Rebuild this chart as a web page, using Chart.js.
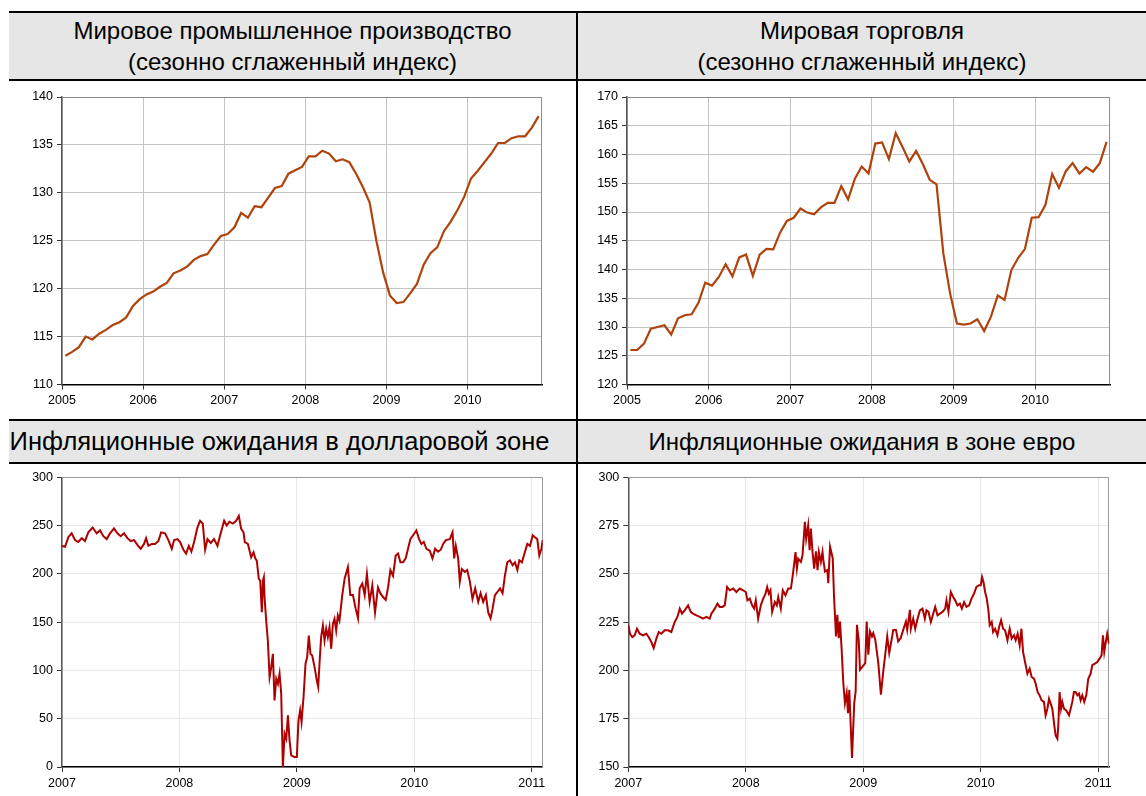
<!DOCTYPE html>
<html>
<head>
<meta charset="utf-8">
<script src="https://cdn.jsdelivr.net/npm/chart.js@4.4.1/dist/chart.umd.min.js"></script>
<style>
  body { margin: 0; background: #fff; width: 1146px; height: 796px; position: relative; overflow: hidden;
         font-family: "Liberation Sans", Arial, sans-serif; }
  .hdr { position: absolute; box-sizing: border-box; background: #e6e6e6; border-top: 2px solid #000;
         border-bottom: 2px solid #000; text-align: center; color: #000; font-size: 24px; white-space: nowrap; }
  .hdr.two { height: 70px; line-height: 31px; padding-top: 2px; }
  .hdr.one { height: 45px; line-height: 41px; }
  .vline { position: absolute; left: 576px; top: 11px; width: 2px; height: 785px; background: #000; }
  .box { position: absolute; }
</style>
</head>
<body>

<div class="hdr two" style="left:9px;top:11px;width:567px">Мировое промышленное производство<br>(сезонно сглаженный индекс)</div>
<div class="hdr two" style="left:578px;top:11px;width:568px">Мировая торговля<br>(сезонно сглаженный индекс)</div>
<div class="hdr one" style="left:9px;top:419px;width:567px;font-size:25.5px;padding-right:26px">Инфляционные ожидания в долларовой зоне</div>
<div class="hdr one" style="left:578px;top:419px;width:568px">Инфляционные ожидания в зоне евро</div>
<div class="vline"></div>

<div class="box" style="left:0;top:82px;width:576px;height:336px"><canvas id="prod"></canvas></div>
<div class="box" style="left:578px;top:82px;width:568px;height:336px"><canvas id="trade"></canvas></div>
<div class="box" style="left:0;top:465px;width:576px;height:331px"><canvas id="usd"></canvas></div>
<div class="box" style="left:578px;top:465px;width:568px;height:331px"><canvas id="eur"></canvas></div>

<script>
// ===============================
// данные: месячные индексы, янв 2005 – ноя 2010 (точка в середине месяца)
// ===============================
const monthStart = 2005;
const yearTicksTop = [2005, 2006, 2007, 2008, 2009, 2010];

const productionValues = [
  113.0, 113.4, 113.9, 115.0, 114.7, 115.3, 115.7, 116.2, 116.5, 117.0, 118.2, 118.9,
  119.4, 119.7, 120.2, 120.6, 121.6, 121.9, 122.3, 123.0, 123.4, 123.6, 124.6, 125.5,
  125.7, 126.4, 127.9, 127.4, 128.6, 128.5, 129.5, 130.5, 130.7, 132.0, 132.35, 132.7,
  133.8, 133.8, 134.4, 134.1, 133.3, 133.5, 133.2, 132.0, 130.6, 129.0, 125.0, 121.7,
  119.3, 118.5, 118.6, 119.5, 120.5, 122.5, 123.7, 124.3, 126.0, 127.0, 128.2, 129.6,
  131.5, 132.3, 133.2, 134.1, 135.2, 135.2, 135.7, 135.9, 135.9, 136.8, 138.0
];

const tradeValues = [
  126.0, 126.0, 127.1, 129.7, 130.0, 130.3, 128.7, 131.5, 132.05, 132.2, 134.2, 137.7,
  137.2, 138.7, 140.9, 138.8, 142.1, 142.6, 138.9, 142.6, 143.6, 143.5, 146.4, 148.45,
  149.0, 150.6, 149.9, 149.6, 150.8, 151.6, 151.6, 154.5, 152.2, 155.8, 157.9, 156.7,
  161.9, 162.1, 159.2, 163.7, 161.3, 158.8, 160.6, 158.3, 155.6, 154.8, 142.8, 135.8,
  130.6, 130.4, 130.6, 131.35, 129.3, 131.8, 135.5, 134.7, 139.9, 142.0, 143.6, 149.0,
  149.1, 151.2, 156.6, 154.2, 157.1, 158.5, 156.7, 157.8, 157.0, 158.5, 162.2
];

// ===============================
// данные: инфляционные ожидания (дата в долях года)
// ===============================
const yearTicksBottom = [2007, 2008, 2009, 2010, 2011];

const usdDates = [
  2007.000, 2007.026, 2007.054, 2007.082, 2007.111, 2007.139, 2007.168, 2007.196, 2007.224, 2007.261,
  2007.295, 2007.324, 2007.352, 2007.381, 2007.409, 2007.443, 2007.472, 2007.500, 2007.528, 2007.557,
  2007.585, 2007.614, 2007.642, 2007.670, 2007.699, 2007.716, 2007.736, 2007.764, 2007.793, 2007.821,
  2007.844, 2007.878, 2007.906, 2007.935, 2007.955, 2007.983, 2008.006, 2008.034, 2008.057, 2008.080,
  2008.102, 2008.125, 2008.153, 2008.176, 2008.199, 2008.219, 2008.239, 2008.267, 2008.295, 2008.324,
  2008.347, 2008.381, 2008.403, 2008.426, 2008.455, 2008.483, 2008.506, 2008.526, 2008.546, 2008.557,
  2008.583, 2008.597, 2008.611, 2008.631, 2008.648, 2008.659, 2008.676, 2008.688, 2008.702, 2008.711,
  2008.719, 2008.725, 2008.739, 2008.753, 2008.768, 2008.782, 2008.796, 2008.810, 2008.825, 2008.839,
  2008.853, 2008.867, 2008.881, 2008.896, 2008.910, 2008.924, 2008.938, 2008.952, 2008.980, 2009.000,
  2009.014, 2009.028, 2009.040, 2009.057, 2009.074, 2009.088, 2009.102, 2009.116, 2009.131, 2009.151,
  2009.170, 2009.182, 2009.193, 2009.207, 2009.222, 2009.236, 2009.250, 2009.264, 2009.278, 2009.293,
  2009.307, 2009.321, 2009.335, 2009.349, 2009.363, 2009.387, 2009.407, 2009.435, 2009.455, 2009.478,
  2009.501, 2009.521, 2009.535, 2009.558, 2009.578, 2009.597, 2009.620, 2009.643, 2009.666, 2009.691,
  2009.711, 2009.734, 2009.757, 2009.777, 2009.797, 2009.819, 2009.842, 2009.862, 2009.882, 2009.905,
  2009.927, 2009.947, 2009.967, 2009.990, 2010.018, 2010.041, 2010.061, 2010.081, 2010.104, 2010.132,
  2010.155, 2010.178, 2010.203, 2010.226, 2010.246, 2010.269, 2010.303, 2010.326, 2010.340, 2010.354,
  2010.374, 2010.388, 2010.405, 2010.431, 2010.451, 2010.474, 2010.496, 2010.519, 2010.545, 2010.565,
  2010.587, 2010.610, 2010.630, 2010.650, 2010.667, 2010.687, 2010.707, 2010.730, 2010.752, 2010.772,
  2010.792, 2010.815, 2010.838, 2010.858, 2010.878, 2010.895, 2010.917, 2010.943, 2010.963, 2010.986,
  2011.009, 2011.028, 2011.048, 2011.065, 2011.083, 2011.094
];
const usdValues = [
  229, 228, 238, 242, 235, 233, 237, 234, 243, 248,
  242, 245, 239, 236, 242, 247, 242, 239, 242, 237,
  234, 235, 230, 226, 231, 237, 229, 231, 231, 234,
  243, 242, 235, 226, 235, 236, 233, 225, 221, 229,
  223, 233, 248, 255, 252, 225, 236, 232, 236, 229,
  240, 255, 250, 254, 252, 255, 260, 246.6, 243.1, 232.8,
  231, 224.1, 217.2, 222.4, 215.5, 213.8, 194.8, 193.1, 160.3, 193.1,
  196.6, 175.9, 151.7, 131, 93.1, 103.4, 117.2, 69, 91.4, 86.2,
  96.6, 75.9, 0, 34.5, 29.3, 53.4, 27.6, 12.1, 10.3, 10.3,
  48.3, 58.6, 46.6, 72.4, 106.9, 113.8, 136.2, 117.2, 115.5, 103.4,
  89.7, 82.8, 106.9, 134.5, 146.6, 131, 143.1, 134.5, 144.8, 122.4,
  148.3, 153.4, 141.4, 156.9, 151.7, 178, 195, 207, 178, 178,
  164, 154, 185, 190, 178, 200, 171, 188, 160, 186,
  180, 176, 173, 186, 204, 198, 219, 221, 212, 212,
  216, 226, 236, 240, 245, 236, 231, 233, 226, 224,
  216, 226, 223, 225, 231, 235, 236, 243, 216, 229,
  216, 192, 205, 202, 204, 192, 174, 185, 171, 180,
  171, 178, 160, 154, 164, 178, 181, 185, 180, 198,
  212, 214, 209, 212, 204, 214, 212, 223, 231, 229,
  240, 238, 236, 219, 226, 235
];

const eurDates = [
  2007.000, 2007.014, 2007.034, 2007.054, 2007.074, 2007.097, 2007.125, 2007.153, 2007.173, 2007.196,
  2007.216, 2007.239, 2007.259, 2007.281, 2007.310, 2007.338, 2007.366, 2007.395, 2007.418, 2007.438,
  2007.457, 2007.480, 2007.509, 2007.531, 2007.551, 2007.580, 2007.608, 2007.636, 2007.665, 2007.693,
  2007.707, 2007.736, 2007.759, 2007.778, 2007.801, 2007.821, 2007.841, 2007.864, 2007.892, 2007.920,
  2007.949, 2007.977, 2008.000, 2008.014, 2008.034, 2008.054, 2008.071, 2008.085, 2008.105, 2008.128,
  2008.148, 2008.168, 2008.182, 2008.196, 2008.210, 2008.224, 2008.247, 2008.264, 2008.276, 2008.298,
  2008.315, 2008.338, 2008.361, 2008.384, 2008.398, 2008.412, 2008.423, 2008.435, 2008.446, 2008.469,
  2008.483, 2008.503, 2008.514, 2008.531, 2008.543, 2008.554, 2008.568, 2008.582, 2008.597, 2008.611,
  2008.622, 2008.639, 2008.653, 2008.660, 2008.674, 2008.694, 2008.702, 2008.717, 2008.740, 2008.751,
  2008.768, 2008.779, 2008.791, 2008.802, 2008.816, 2008.830, 2008.844, 2008.859, 2008.870, 2008.881,
  2008.904, 2008.923, 2008.935, 2008.946, 2008.961, 2008.972, 2008.995, 2009.017, 2009.029, 2009.043,
  2009.057, 2009.074, 2009.085, 2009.102, 2009.128, 2009.150, 2009.170, 2009.193, 2009.204, 2009.221,
  2009.241, 2009.255, 2009.278, 2009.297, 2009.318, 2009.340, 2009.363, 2009.374, 2009.397, 2009.405,
  2009.425, 2009.442, 2009.462, 2009.482, 2009.504, 2009.524, 2009.538, 2009.555, 2009.575, 2009.595,
  2009.612, 2009.632, 2009.652, 2009.674, 2009.697, 2009.708, 2009.725, 2009.745, 2009.765, 2009.782,
  2009.802, 2009.822, 2009.839, 2009.858, 2009.878, 2009.901, 2009.921, 2009.943, 2009.963, 2009.986,
  2010.000, 2010.011, 2010.023, 2010.037, 2010.051, 2010.065, 2010.076, 2010.093, 2010.105, 2010.122,
  2010.142, 2010.156, 2010.173, 2010.190, 2010.207, 2010.227, 2010.246, 2010.263, 2010.283, 2010.297,
  2010.314, 2010.331, 2010.346, 2010.360, 2010.377, 2010.397, 2010.416, 2010.433, 2010.453, 2010.467,
  2010.484, 2010.501, 2010.518, 2010.538, 2010.552, 2010.567, 2010.581, 2010.595, 2010.609, 2010.626,
  2010.637, 2010.652, 2010.660, 2010.671, 2010.683, 2010.694, 2010.708, 2010.728, 2010.751, 2010.765,
  2010.779, 2010.793, 2010.807, 2010.822, 2010.836, 2010.850, 2010.864, 2010.881, 2010.898, 2010.915,
  2010.935, 2010.949, 2010.972, 2010.992, 2011.011, 2011.028, 2011.040, 2011.051, 2011.062, 2011.076,
  2011.091
];
const eurValues = [
  223.4, 219, 217.3, 218.2, 221.6, 219, 218.2, 219, 217.3, 214.7,
  211.6, 216.5, 219.9, 219, 220.8, 220.8, 219.9, 225.1, 227.7, 232,
  229.4, 231.1, 233.7, 230.3, 229.4, 228.5, 227.7, 226.8, 227.7, 226.8,
  229.4, 232, 234.6, 232.9, 232.9, 233.7, 243.2, 241.5, 242.4, 240.6,
  242.4, 241.5, 240.6, 236.3, 237.2, 233.7, 232, 236.3, 226.8, 233.7,
  237.2, 239.8, 243.2, 239.8, 241.5, 230.3, 235.4, 233.7, 238, 232,
  241.5, 238.9, 242.4, 242.4, 248.4, 255.3, 261.3, 252.7, 257.9, 256.2,
  259.6, 276.9, 268.2, 275.2, 262.2, 273.4, 261.3, 252.7, 261.7, 251.9,
  261.3, 256.2, 261.3, 257.2, 251.2, 252, 245.2, 264.1, 258.1, 238.3,
  217.6, 228.8, 216.7, 225.3, 210.7, 193.4, 183.1, 188.3, 177.9, 190,
  154.7, 183.1, 189.1, 223.6, 215.9, 200.3, 202.1, 203.8, 225.3, 208.1,
  220.2, 217.6, 219.3, 215.9, 203.8, 187.4, 199.5, 211.6, 217.6, 209,
  215.9, 221, 221, 215, 216.7, 221, 225.3, 221, 231.4, 221.6,
  226.8, 221.6, 226.8, 231.1, 232, 226.8, 231.1, 230.3, 225.1, 229.4,
  232.9, 228.5, 229.4, 230.3, 232, 236.3, 230.3, 240.6, 238, 236.3,
  233.7, 234.6, 232, 235.4, 232.9, 233.7, 237.2, 239.8, 243.2, 244.1,
  244.1, 248.4, 245.8, 240.6, 237.2, 231.1, 223.4, 225.1, 219.9, 221.6,
  218.2, 222.5, 226, 221.6, 220.8, 215.6, 221.6, 216.5, 218.2, 215.6,
  219, 213, 221.6, 209.6, 204.4, 198.3, 200.9, 196.6, 195.7, 193.2,
  188.8, 187.1, 184.5, 183.7, 176.8, 180.2, 185.4, 182.8, 180.2, 171.6,
  166.4, 164.7, 171.6, 188.8, 180.2, 183.7, 180.2, 179.3, 176.8, 180.2,
  183.7, 188.8, 188.8, 187.1, 188, 184.5, 187.1, 183.7, 187.1, 195.7,
  198.3, 202.7, 203.5, 204.4, 206.1, 207.8, 218.2, 209.6, 213.9, 219,
  213.9
];

// ===============================
// рамка области построения (верх и правый край)
// ===============================
const frame = {
  id: "frame",
  beforeDatasetsDraw(chart, args, opts) {
    const { ctx, chartArea: a } = chart;
    ctx.save();
    ctx.strokeStyle = opts.color || "#999";
    ctx.lineWidth = 1;
    ctx.beginPath();
    ctx.moveTo(a.left, Math.round(a.top) + 0.5);
    ctx.lineTo(Math.round(a.right) - 0.5, Math.round(a.top) + 0.5);
    ctx.lineTo(Math.round(a.right) - 0.5, a.bottom);
    ctx.stroke();
    ctx.restore();
  }
};

// ===============================
// общий конструктор графика
// ===============================
function drawPanel(id, cfg) {
  const tickFont = { family: "'Liberation Sans', Arial, sans-serif", size: 12.5 };
  new Chart(document.getElementById(id), {
    type: "line",
    data: {
      datasets: [{
        data: cfg.points,
        borderColor: cfg.color,
        borderWidth: cfg.lineWidth,
        pointRadius: 0,
        tension: 0,
        fill: false
      }]
    },
    options: {
      responsive: true,
      maintainAspectRatio: false,
      animation: false,
      parsing: false,
      layout: { padding: { left: 0, right: cfg.padRight, top: cfg.padTop, bottom: 0 } },
      plugins: { legend: { display: false }, tooltip: { enabled: false }, frame: { color: cfg.frameColor } },
      scales: {
        x: {
          type: "linear",
          min: cfg.xMin,
          max: cfg.xMax,
          afterBuildTicks: s => { s.ticks = cfg.xTicks.map(v => ({ value: v })); },
          afterFit: s => { s.height = cfg.xAxisHeight; },
          ticks: { color: "#000", font: tickFont, padding: 4, maxRotation: 0, callback: v => String(v) },
          grid: { color: cfg.gridColor, lineWidth: 1, tickLength: 5, tickColor: "#333" },
          border: { color: "#000", width: 1.5 }
        },
        y: {
          min: cfg.yMin,
          max: cfg.yMax,
          afterFit: s => { s.width = cfg.yAxisWidth; },
          ticks: { stepSize: cfg.yStep, color: "#000", font: tickFont, padding: 4 },
          grid: { color: cfg.gridColor, lineWidth: 1, tickLength: 5, tickColor: "#333" },
          border: { color: "#555", width: 1.5 }
        }
      }
    },
    plugins: [frame]
  });
}

// месячная точка ставится в середину месяца
function monthly(values) {
  return values.map((v, i) => ({ x: monthStart + (i + 0.5) / 12, y: v }));
}
function dated(dates, values) {
  return dates.map((d, i) => ({ x: d, y: values[i] }));
}

drawPanel("prod", {
  points: monthly(productionValues), color: "#b0420c", lineWidth: 2.2,
  xMin: 2005, xMax: 2005 + 71 / 12, xTicks: yearTicksTop,
  yMin: 110, yMax: 140, yStep: 5,
  gridColor: "#c4c4c4", frameColor: "#8c8c8c",
  yAxisWidth: 62, xAxisHeight: 33.5, padRight: 34, padTop: 15
});

drawPanel("trade", {
  points: monthly(tradeValues), color: "#b0420c", lineWidth: 2.2,
  xMin: 2005, xMax: 2005 + 71 / 12, xTicks: yearTicksTop,
  yMin: 120, yMax: 170, yStep: 5,
  gridColor: "#c4c4c4", frameColor: "#8c8c8c",
  yAxisWidth: 49, xAxisHeight: 33.5, padRight: 36, padTop: 15
});

drawPanel("usd", {
  points: dated(usdDates, usdValues), color: "#ad0000", lineWidth: 2,
  xMin: 2007, xMax: 2011.094, xTicks: yearTicksBottom,
  yMin: 0, yMax: 300, yStep: 50,
  gridColor: "#e8e8e8", frameColor: "#999",
  yAxisWidth: 62, xAxisHeight: 29, padRight: 33.3, padTop: 12.3
});

drawPanel("eur", {
  points: dated(eurDates, eurValues), color: "#ad0000", lineWidth: 2,
  xMin: 2007, xMax: 2011.094, xTicks: yearTicksBottom,
  yMin: 150, yMax: 300, yStep: 25,
  gridColor: "#e8e8e8", frameColor: "#999",
  yAxisWidth: 50.3, xAxisHeight: 29, padRight: 36.7, padTop: 12.3
});
</script>
</body>
</html>
